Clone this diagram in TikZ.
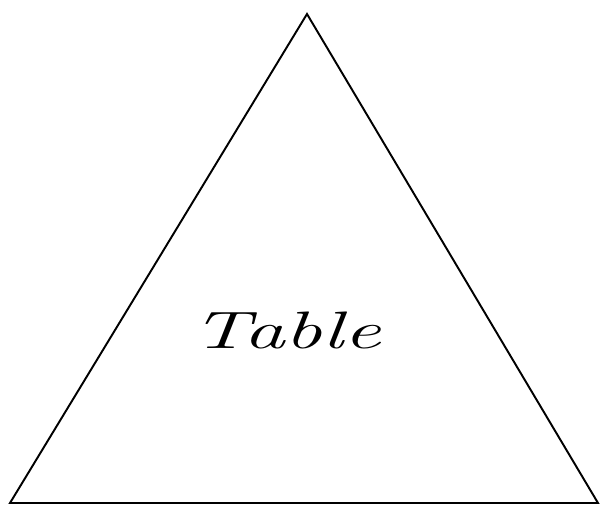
\documentclass[tikz,border=0pt]{standalone}
\usepackage{fontspec}
\begin{document}
\begin{tikzpicture}[x=0.02cm, y=0.02cm]

    % Frame of the picture (600 x 505)
    \useasboundingbox (0,0) rectangle (600,505);

    % Corners of the triangle
    \coordinate (apex) at (307,491);
    \coordinate (left) at (10,2);
    \coordinate (right) at (598,2);

    % Triangle
    \draw[line width=1.1pt, line join=miter] (left) -- (apex) -- (right) -- cycle;

    % Label
    \node[font=\fontsize{30}{36}\selectfont\itshape, xscale=1.58] (label) at (286,175) {Table};

\end{tikzpicture}
\end{document}
